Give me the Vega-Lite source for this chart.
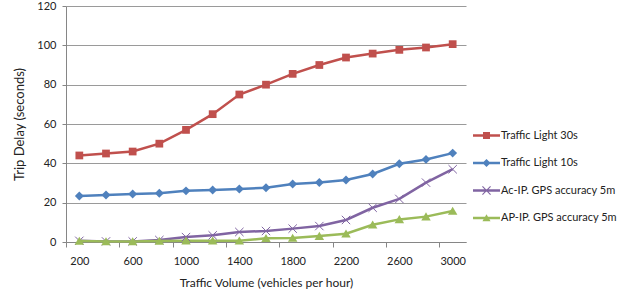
{
  "$schema": "https://vega.github.io/schema/vega-lite/v6.json",
  "autosize": {"type": "none"},
  "padding": {"left": 66, "top": 6, "right": 158, "bottom": 54},
  "width": 400,
  "height": 236,
  "config": {
    "font": "Lato",
    "view": {"stroke": null},
    "axis": {"labelFont": "Lato", "titleFont": "Lato", "labelColor": "#222", "titleColor": "#222", "labelFontSize": 11, "titleFontSize": 12, "titleFontWeight": "normal", "domainColor": "#868686", "tickColor": "#868686", "gridColor": "#9a9a9a"}
  },
  "data": {"values": [
    {"v": 200, "s": "Traffic Light 30s", "d": 44},
    {"v": 400, "s": "Traffic Light 30s", "d": 45},
    {"v": 600, "s": "Traffic Light 30s", "d": 46},
    {"v": 800, "s": "Traffic Light 30s", "d": 50},
    {"v": 1000, "s": "Traffic Light 30s", "d": 57},
    {"v": 1200, "s": "Traffic Light 30s", "d": 65},
    {"v": 1400, "s": "Traffic Light 30s", "d": 75},
    {"v": 1600, "s": "Traffic Light 30s", "d": 80},
    {"v": 1800, "s": "Traffic Light 30s", "d": 85.5},
    {"v": 2000, "s": "Traffic Light 30s", "d": 90},
    {"v": 2200, "s": "Traffic Light 30s", "d": 93.8},
    {"v": 2400, "s": "Traffic Light 30s", "d": 95.8},
    {"v": 2600, "s": "Traffic Light 30s", "d": 97.7},
    {"v": 2800, "s": "Traffic Light 30s", "d": 98.9},
    {"v": 3000, "s": "Traffic Light 30s", "d": 100.6},
    {"v": 200, "s": "Traffic Light 10s", "d": 23.4},
    {"v": 400, "s": "Traffic Light 10s", "d": 23.9},
    {"v": 600, "s": "Traffic Light 10s", "d": 24.4},
    {"v": 800, "s": "Traffic Light 10s", "d": 24.8},
    {"v": 1000, "s": "Traffic Light 10s", "d": 26},
    {"v": 1200, "s": "Traffic Light 10s", "d": 26.4},
    {"v": 1400, "s": "Traffic Light 10s", "d": 26.9},
    {"v": 1600, "s": "Traffic Light 10s", "d": 27.6},
    {"v": 1800, "s": "Traffic Light 10s", "d": 29.5},
    {"v": 2000, "s": "Traffic Light 10s", "d": 30.3},
    {"v": 2200, "s": "Traffic Light 10s", "d": 31.5},
    {"v": 2400, "s": "Traffic Light 10s", "d": 34.6},
    {"v": 2600, "s": "Traffic Light 10s", "d": 39.8},
    {"v": 2800, "s": "Traffic Light 10s", "d": 42},
    {"v": 3000, "s": "Traffic Light 10s", "d": 45.2},
    {"v": 200, "s": "Ac-IP. GPS accuracy 5m", "d": 0.6},
    {"v": 400, "s": "Ac-IP. GPS accuracy 5m", "d": 0.3},
    {"v": 600, "s": "Ac-IP. GPS accuracy 5m", "d": 0.3},
    {"v": 800, "s": "Ac-IP. GPS accuracy 5m", "d": 1},
    {"v": 1000, "s": "Ac-IP. GPS accuracy 5m", "d": 2.5},
    {"v": 1200, "s": "Ac-IP. GPS accuracy 5m", "d": 3.4},
    {"v": 1400, "s": "Ac-IP. GPS accuracy 5m", "d": 5.1},
    {"v": 1600, "s": "Ac-IP. GPS accuracy 5m", "d": 5.6},
    {"v": 1800, "s": "Ac-IP. GPS accuracy 5m", "d": 6.8},
    {"v": 2000, "s": "Ac-IP. GPS accuracy 5m", "d": 8.1},
    {"v": 2200, "s": "Ac-IP. GPS accuracy 5m", "d": 11.2},
    {"v": 2400, "s": "Ac-IP. GPS accuracy 5m", "d": 17.4},
    {"v": 2600, "s": "Ac-IP. GPS accuracy 5m", "d": 21.9},
    {"v": 2800, "s": "Ac-IP. GPS accuracy 5m", "d": 30.2},
    {"v": 3000, "s": "Ac-IP. GPS accuracy 5m", "d": 37},
    {"v": 200, "s": "AP-IP. GPS accuracy 5m", "d": 0.5},
    {"v": 400, "s": "AP-IP. GPS accuracy 5m", "d": 0.3},
    {"v": 600, "s": "AP-IP. GPS accuracy 5m", "d": 0.3},
    {"v": 800, "s": "AP-IP. GPS accuracy 5m", "d": 0.5},
    {"v": 1000, "s": "AP-IP. GPS accuracy 5m", "d": 0.6},
    {"v": 1200, "s": "AP-IP. GPS accuracy 5m", "d": 0.6},
    {"v": 1400, "s": "AP-IP. GPS accuracy 5m", "d": 0.6},
    {"v": 1600, "s": "AP-IP. GPS accuracy 5m", "d": 1.9},
    {"v": 1800, "s": "AP-IP. GPS accuracy 5m", "d": 2},
    {"v": 2000, "s": "AP-IP. GPS accuracy 5m", "d": 3},
    {"v": 2200, "s": "AP-IP. GPS accuracy 5m", "d": 4.2},
    {"v": 2400, "s": "AP-IP. GPS accuracy 5m", "d": 8.8},
    {"v": 2600, "s": "AP-IP. GPS accuracy 5m", "d": 11.5},
    {"v": 2800, "s": "AP-IP. GPS accuracy 5m", "d": 12.9},
    {"v": 3000, "s": "AP-IP. GPS accuracy 5m", "d": 15.8}
  ]},
  "encoding": {
    "x": {"field": "v", "type": "quantitative", "scale": {"domain": [100, 3100], "nice": false, "zero": false},
      "axis": {"title": "Traffic Volume (vehicles per hour)", "values": [100, 500, 900, 1300, 1700, 2100, 2500, 2900], "labelExpr": "datum.value + 100", "labelOffset": 13.33, "grid": false, "tickSize": 5, "labelPadding": 8, "titlePadding": 11, "labelFlush": false}},
    "y": {"field": "d", "type": "quantitative", "scale": {"domain": [0, 120], "nice": false},
      "axis": {"title": "Trip Delay (seconds)", "titleFontSize": 13, "values": [0, 20, 40, 60, 80, 100, 120], "tickSize": 4, "labelPadding": 6, "titlePadding": 10, "grid": true}},
    "color": {"field": "s", "type": "nominal",
      "scale": {"domain": ["Traffic Light 30s", "Traffic Light 10s", "Ac-IP. GPS accuracy 5m", "AP-IP. GPS accuracy 5m"], "range": ["#C0504D", "#4F81BD", "#8064A2", "#9BBB59"]}}
  },
  "layer": [
    {
      "mark": {"type": "line", "strokeWidth": 2.5},
      "encoding": {
        "color": {"field": "s", "type": "nominal",
          "legend": {"orient": "none", "legendX": 407, "legendY": 116, "title": null, "symbolSize": 729, "labelFont": "Lato", "labelFontSize": 11, "labelColor": "#222", "labelOffset": 1, "rowPadding": 8.5,
            "encode": {"symbols": {"update": {
              "shape": {"signal": "datum.value === 'Traffic Light 30s' ? 'M-1,-0.09H1V0.09H-1ZM-0.26,-0.26H0.26V0.26H-0.26Z' : datum.value === 'Traffic Light 10s' ? 'M-1,-0.09H1V0.09H-1ZM0,-0.3L0.3,0L0,0.3L-0.3,0Z' : datum.value === 'Ac-IP. GPS accuracy 5m' ? 'M-1,-0.09H1V0.09H-1ZM-0.27,-0.33L0.33,0.27L0.27,0.33L-0.33,-0.27ZM0.27,-0.33L0.33,-0.27L-0.27,0.33L-0.33,0.27Z' : 'M-1,-0.09H1V0.09H-1ZM0,-0.28L0.3,0.24L-0.3,0.24Z'"},
              "fill": {"signal": "scale('color', datum.value)"},
              "fillOpacity": {"value": 1},
              "strokeWidth": {"value": 0}
            }}}}
        }
      }
    },
    {
      "transform": [{"filter": "datum.s === 'Traffic Light 30s'"}],
      "mark": {"type": "point", "shape": "square", "filled": true, "opacity": 1, "size": 60}
    },
    {
      "transform": [{"filter": "datum.s === 'Traffic Light 10s'"}],
      "mark": {"type": "point", "shape": "diamond", "filled": true, "opacity": 1, "size": 80}
    },
    {
      "transform": [{"filter": "datum.s === 'Ac-IP. GPS accuracy 5m'"}],
      "mark": {"type": "point", "shape": "M-1,-1L1,1M-1,1L1,-1", "filled": false, "opacity": 1, "size": 70, "strokeWidth": 1}
    },
    {
      "transform": [{"filter": "datum.s === 'AP-IP. GPS accuracy 5m'"}],
      "mark": {"type": "point", "shape": "M0,-0.9L1,0.8L-1,0.8Z", "filled": true, "opacity": 1, "size": 90}
    }
  ]
}
